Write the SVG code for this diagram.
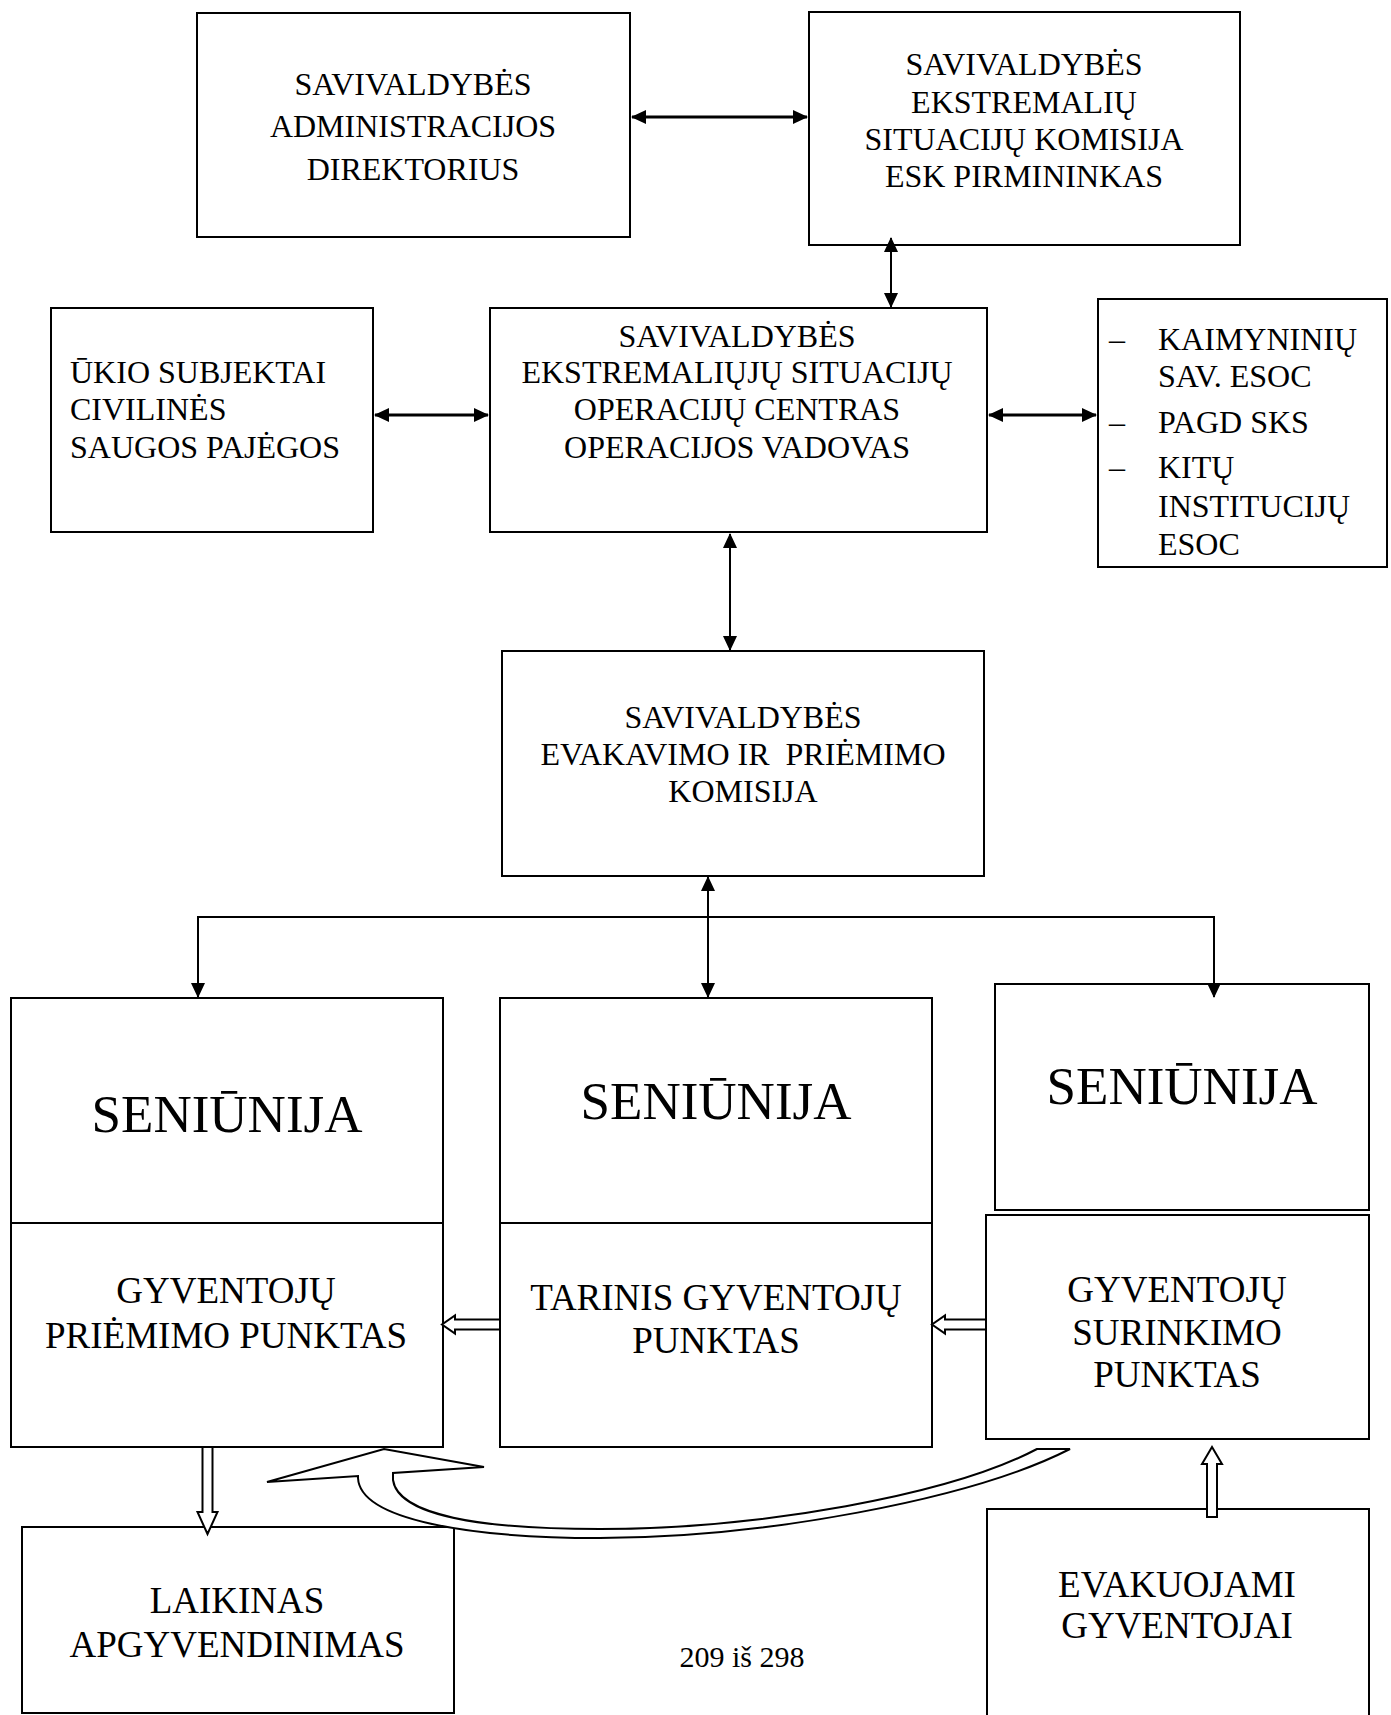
<svg xmlns="http://www.w3.org/2000/svg" width="1391" height="1715" viewBox="0 0 1391 1715">
<style>
.box{fill:#fff;stroke:#000;stroke-width:2}
.t{font-family:"Liberation Serif","Times New Roman",serif;fill:#000;text-anchor:middle}
.s32{font-size:32px}
.s37{font-size:37px}
.s53{font-size:53px}
.l{text-anchor:start}
.ln{fill:none;stroke:#000;stroke-width:2}
.thk{stroke-width:3}
.hol{fill:#fff;stroke:#000;stroke-width:2;stroke-linejoin:miter}
</style>
<defs>
<marker id="ah" viewBox="0 0 15 14" refX="14" refY="7" markerWidth="15" markerHeight="14" markerUnits="userSpaceOnUse" orient="auto-start-reverse">
<path d="M0,0 L15,7 L0,14 Z" fill="#000"/>
</marker>
</defs>
<rect width="1391" height="1715" fill="#fff"/>

<g id="n-direktorius">
<rect class="box" x="197" y="13" width="433" height="224"/>
<text class="t s32" x="413" y="95">SAVIVALDYBĖS</text>
<text class="t s32" x="413" y="137">ADMINISTRACIJOS</text>
<text class="t s32" x="413" y="180">DIREKTORIUS</text>
</g>

<g id="n-esk">
<rect class="box" x="809" y="12" width="431" height="233"/>
<text class="t s32" x="1024" y="75">SAVIVALDYBĖS</text>
<text class="t s32" x="1024" y="113">EKSTREMALIŲ</text>
<text class="t s32" x="1024" y="150">SITUACIJŲ KOMISIJA</text>
<text class="t s32" x="1024" y="187">ESK PIRMININKAS</text>
</g>

<g id="n-ukio">
<rect class="box" x="51" y="308" width="322" height="224"/>
<text class="t s32 l" x="70" y="383">ŪKIO SUBJEKTAI</text>
<text class="t s32 l" x="70" y="420">CIVILINĖS</text>
<text class="t s32 l" x="70" y="458">SAUGOS PAJĖGOS</text>
</g>

<g id="n-esoc">
<rect class="box" x="490" y="308" width="497" height="224"/>
<text class="t s32" x="737" y="347">SAVIVALDYBĖS</text>
<text class="t s32" x="737" y="383">EKSTREMALIŲJŲ SITUACIJŲ</text>
<text class="t s32" x="737" y="420">OPERACIJŲ CENTRAS</text>
<text class="t s32" x="737" y="458">OPERACIJOS VADOVAS</text>
</g>

<g id="n-kitos">
<rect class="box" x="1098" y="299" width="289" height="268"/>
<text class="t s32 l" x="1109" y="350">–</text>
<text class="t s32 l" x="1158" y="350">KAIMYNINIŲ</text>
<text class="t s32 l" x="1158" y="387">SAV. ESOC</text>
<text class="t s32 l" x="1109" y="433">–</text>
<text class="t s32 l" x="1158" y="433">PAGD SKS</text>
<text class="t s32 l" x="1109" y="478">–</text>
<text class="t s32 l" x="1158" y="478">KITŲ</text>
<text class="t s32 l" x="1158" y="517">INSTITUCIJŲ</text>
<text class="t s32 l" x="1158" y="555">ESOC</text>
</g>

<g id="n-komisija">
<rect class="box" x="502" y="651" width="482" height="225"/>
<text class="t s32" x="743" y="728">SAVIVALDYBĖS</text>
<text class="t s32" x="743" y="765" xml:space="preserve">EVAKAVIMO IR  PRIĖMIMO</text>
<text class="t s32" x="743" y="802">KOMISIJA</text>
</g>

<g id="n-seniunija-1">
<rect class="box" x="11" y="998" width="432" height="449"/>
<line class="ln" x1="11" y1="1223" x2="443" y2="1223"/>
<text class="t s53" x="227" y="1132">SENIŪNIJA</text>
<text class="t s37" x="226" y="1303">GYVENTOJŲ</text>
<text class="t s37" x="226" y="1348">PRIĖMIMO PUNKTAS</text>
</g>

<g id="n-seniunija-2">
<rect class="box" x="500" y="998" width="432" height="449"/>
<line class="ln" x1="500" y1="1223" x2="932" y2="1223"/>
<text class="t s53" x="716" y="1119">SENIŪNIJA</text>
<text class="t s37" x="716" y="1310">TARINIS GYVENTOJŲ</text>
<text class="t s37" x="716" y="1353">PUNKTAS</text>
</g>

<g id="n-seniunija-3">
<rect class="box" x="995" y="984" width="374" height="226"/>
<text class="t s53" x="1182" y="1104">SENIŪNIJA</text>
</g>

<g id="n-surinkimo">
<rect class="box" x="986" y="1215" width="383" height="224"/>
<text class="t s37" x="1177" y="1302">GYVENTOJŲ</text>
<text class="t s37" x="1177" y="1345">SURINKIMO</text>
<text class="t s37" x="1177" y="1387">PUNKTAS</text>
</g>

<g id="n-laikinas">
<rect class="box" x="22" y="1527" width="432" height="186"/>
<text class="t s37" x="237" y="1613">LAIKINAS</text>
<text class="t s37" x="237" y="1657">APGYVENDINIMAS</text>
</g>

<g id="n-evakuojami">
<rect class="box" x="987" y="1509" width="382" height="215"/>
<text class="t s37" x="1177" y="1597">EVAKUOJAMI</text>
<text class="t s37" x="1177" y="1638">GYVENTOJAI</text>
</g>

<text class="t" style="font-size:30px" x="742" y="1667">209 iš 298</text>

<g id="connectors">
<line class="ln thk" x1="632" y1="117" x2="807" y2="117" marker-start="url(#ah)" marker-end="url(#ah)"/>
<line class="ln" x1="891" y1="238" x2="891" y2="307" marker-start="url(#ah)" marker-end="url(#ah)"/>
<line class="ln thk" x1="375" y1="415" x2="488" y2="415" marker-start="url(#ah)" marker-end="url(#ah)"/>
<line class="ln thk" x1="989" y1="415" x2="1096" y2="415" marker-start="url(#ah)" marker-end="url(#ah)"/>
<line class="ln" x1="730" y1="534" x2="730" y2="650" marker-start="url(#ah)" marker-end="url(#ah)"/>
<line class="ln" x1="708" y1="877" x2="708" y2="997" marker-start="url(#ah)" marker-end="url(#ah)"/>
<polyline class="ln" points="198,997 198,917 1214,917 1214,997" marker-start="url(#ah)" marker-end="url(#ah)"/>
<polygon class="hol" points="500,1319.5 455,1319.5 455,1315.5 442,1324.5 455,1333.5 455,1329.5 500,1329.5"/>
<polygon class="hol" points="986,1319.5 945,1319.5 945,1315.5 932,1324.5 945,1333.5 945,1329.5 986,1329.5"/>
<polygon class="hol" points="202.5,1447 212.5,1447 212.5,1512 217.5,1512 207.5,1534 197.5,1512 202.5,1512"/>
<polygon class="hol" points="1207,1517 1217,1517 1217,1464 1222,1464 1212,1447 1202,1464 1207,1464"/>
<path class="hol" d="M1070,1449 C970,1500 760,1538 600,1538 C470,1538 360,1520 358,1478 L358,1476 L267,1482 L384,1449 L484,1467 L393,1473 L393,1480 C398,1515 480,1529 600,1529 C760,1529 950,1495 1037,1449 Z"/>
</g>
</svg>
